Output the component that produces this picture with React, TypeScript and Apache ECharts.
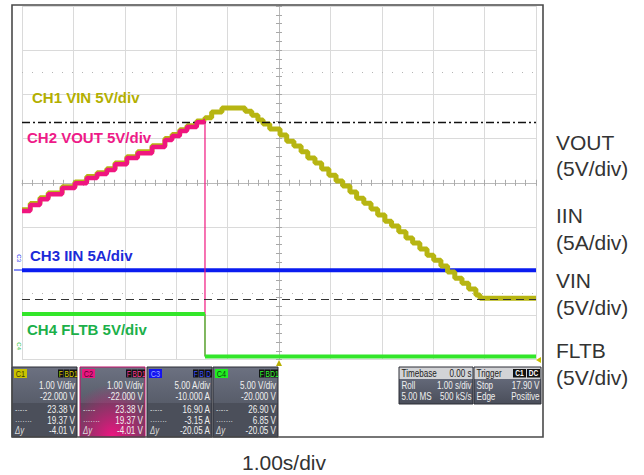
import React, { useEffect, useRef } from 'react';
import * as echarts from 'echarts';

const W = 644;
const H = 475;

// ---- channel scaling (from the scope's channel panels) ----
const C1_SCALE = 1; // V/div (VIN)
const C1_CENTER = 22; // V at screen centre (offset -22 V)
const C2_SCALE = 1; // V/div (VOUT)
const C2_CENTER = 22;
const C3_SCALE = 5; // A/div (IIN)
const C3_CENTER = 10;
const C4_SCALE = 5; // V/div (FLTB)
const C4_CENTER = 20;

// ---- time axis (s), 1.00 s/div, 10 div ----
const rampTime = [-5, -4.84, -4.65, -4.49, -4.22, -3.97, -3.74, -3.54, -3.35, -3.19, -2.96, -2.75, -2.47, -2.22, -2.08, -1.93, -1.79, -1.6, -1.46];
const voutRamp = [21.36, 21.5, 21.63, 21.74, 21.88, 21.99, 22.11, 22.2, 22.29, 22.42, 22.56, 22.67, 22.81, 22.97, 23.06, 23.17, 23.26, 23.37, 23.4];
const vinRamp = [21.39, 21.53, 21.66, 21.77, 21.91, 22.02, 22.14, 22.23, 22.32, 22.45, 22.59, 22.7, 22.84, 23.0, 23.09, 23.2, 23.29, 23.4, 23.43];

const vinTailTime = [-1.44, -1.31, -1.11, -0.76, -0.66, -0.53, -0.41, -0.31, -0.18, 0.02, 0.15, 0.29, 0.43, 0.56, 0.7, 0.83, 0.97, 1.11, 1.24, 1.38, 1.51, 1.65, 1.79, 1.92, 2.06, 2.19, 2.33, 2.47, 2.6, 2.74, 2.88, 3.01, 3.15, 3.28, 3.42, 3.56, 3.69, 3.83, 3.91, 5.0];
const vinTail = [23.47, 23.6, 23.69, 23.69, 23.62, 23.53, 23.42, 23.33, 23.22, 23.08, 22.94, 22.83, 22.7, 22.56, 22.45, 22.31, 22.17, 22.04, 21.93, 21.79, 21.65, 21.54, 21.41, 21.27, 21.13, 21.02, 20.89, 20.75, 20.64, 20.5, 20.36, 20.25, 20.12, 19.98, 19.84, 19.73, 19.6, 19.46, 19.39, 19.39];

const voutDropTime = [-1.44, -1.44, 5];
const voutDrop = [23.4, 18.08, 18.08];

const iinTime = [-5, 5];
const iin = [0.1, 0.1];

const fltbHighTime = [-5, -1.44];
const fltbHigh = [5.15, 5.15];
const fltbEdgeTime = [-1.44, -1.44];
const fltbEdge = [5.15, 0.35];
const fltbLowTime = [-1.44, 5];
const fltbLow = [0.35, 0.35];

const c1Cursors = [23.38, 19.37];

// ---- texts ----
const traceLabels = ['CH1 VIN 5V/div', 'CH2 VOUT 5V/div', 'CH3 IIN 5A/div', 'CH4 FLTB 5V/div'];
const sideLabels = ['VOUT', '(5V/div)', 'IIN', '(5A/div)', 'VIN', '(5V/div)', 'FLTB', '(5V/div)'];
const timeLabel = '1.00s/div';

const panelTags = ['C1', 'C2', 'C3', 'C4'];
const panelFlags = [['F', 'B', 'D1'], ['F', 'B', 'D1'], ['F', 'B', 'D'], ['F', 'B', 'D1']];
const panelRows = [
  ['1.00 V/div', '-22.000 V', '23.38 V', '19.37 V', '-4.01 V'],
  ['1.00 V/div', '-22.000 V', '23.38 V', '19.37 V', '-4.01 V'],
  ['5.00 A/div', '-10.000 A', '16.90 A', '-3.15 A', '-20.05 A'],
  ['5.00 V/div', '-20.000 V', '26.90 V', '6.85 V', '-20.05 V'],
];
const timebaseRows = [['Timebase', '0.00 s'], ['Roll', '1.00 s/div'], ['5.00 MS', '500 kS/s']];
const triggerRows = [['Trigger', ''], ['Stop', '17.90 V'], ['Edge', 'Positive']];
const triggerBadges = ['C1', 'DC'];

// ---- styling ----
const COL_VIN = '#b7b512';
const COL_VOUT = '#f0167f';
const COL_IIN = '#0a1cf0';
const COL_FLTB = '#33e62a';
const SANS = '"Liberation Sans", Arial, sans-serif';
const NX = 0.77; // horizontal compression for the scope's narrow panel font
const PFS = 10.5; // panel font size

const toDiv = (scale: number, center: number) => (v: number) => (v - center) / scale;
const pairs = (t: number[], v: number[], f: (x: number) => number) => t.map((x, i) => [x, f(v[i])]);

function tickAxis(dim: 'x' | 'y', inside: boolean) {
  const isX = dim === 'x';
  return {
    type: 'value',
    min: isX ? -5 : -4,
    max: isX ? 5 : 4,
    interval: 0.2,
    axisLabel: { show: false },
    splitLine: { show: false },
    axisLine: { show: true, onZero: true, lineStyle: { color: 'rgba(0,0,0,0)' } },
    axisTick: { show: true, inside, length: 3, lineStyle: { color: '#a8a8a8', width: 1 } },
  };
}

function ptext(x: number, y: number, text: string, fill: string, size: number, align: string, extra: any = {}) {
  return {
    type: 'text', z: 44, x, y, scaleX: NX,
    style: { text, fill, fontSize: size, fontFamily: SANS, align, verticalAlign: 'middle', ...extra },
  };
}

function buildGraphic() {
  const g: any[] = [];
  // outer frame
  g.push({ type: 'rect', z: 50, shape: { x: 12, y: 5, width: 531, height: 432 }, style: { fill: 'none', stroke: '#4a4a4a', lineWidth: 1.6 } });

  // trace labels inside the screen
  const traceLayout = [
    { x: 32, y: 97, c: '#b3af00' },
    { x: 27, y: 137, c: '#ee1a88' },
    { x: 30, y: 255, c: '#1c2ad8' },
    { x: 27, y: 329, c: '#1cb04a' },
  ];
  traceLabels.forEach((t, i) => {
    const L = traceLayout[i];
    g.push({ type: 'text', z: 60, x: L.x, y: L.y, style: { text: t, fill: L.c, fontSize: 15, fontWeight: 'bold', fontFamily: SANS, align: 'left', verticalAlign: 'middle' } });
  });

  // right side labels
  const sideY = [142, 168, 215, 242, 280, 307, 350, 377];
  sideLabels.forEach((t, i) => {
    g.push({ type: 'text', z: 60, x: 556, y: sideY[i], style: { text: t, fill: '#333333', fontSize: 21, fontFamily: SANS, align: 'left', verticalAlign: 'middle' } });
  });
  g.push({ type: 'text', z: 60, x: 284, y: 462, style: { text: timeLabel, fill: '#333333', fontSize: 21, fontFamily: SANS, align: 'center', verticalAlign: 'middle' } });

  // channel ground markers on left edge
  g.push({ type: 'text', z: 60, x: 19, y: 262, rotation: -Math.PI / 2, style: { text: 'C3', fill: COL_IIN, fontSize: 6, fontFamily: SANS, align: 'right', verticalAlign: 'middle' } });
  g.push({ type: 'line', z: 60, shape: { x1: 14, y1: 270, x2: 22, y2: 270 }, style: { stroke: COL_IIN, lineWidth: 1 } });
  g.push({ type: 'text', z: 60, x: 19, y: 350, rotation: -Math.PI / 2, style: { text: 'C4', fill: '#1cc43a', fontSize: 6, fontFamily: SANS, align: 'right', verticalAlign: 'middle' } });
  // trigger position marker
  g.push({ type: 'polygon', z: 60, shape: { points: [[276, 366], [282, 366], [279, 360]] }, style: { fill: '#b8b000' } });
  g.push({ type: 'polygon', z: 60, shape: { points: [[536, 360], [541, 357], [541, 363]] }, style: { fill: '#c8c000' } });

  // channel panels
  const px = [12, 80, 147, 213];
  const pw = 65;
  const py = 367;
  const ph = 70;
  const tagColors = ['#c9c300', '#e8177f', '#1414f0', '#22ee22'];
  const tagText = ['#403d00', '#5a0030', '#9aa8ff', '#0a4a0a'];
  const flagText = ['#d8d200', '#ff3a9a', '#3a50ff', '#33ff33'];
  const rowY = [385.7, 396.7, 409.3, 420.7, 430.7];
  panelTags.forEach((tag, i) => {
    const x0 = px[i];
    g.push({ type: 'rect', z: 40, shape: { x: x0, y: py, width: pw, height: 36 }, style: { fill: new echarts.graphic.LinearGradient(0, 0, 0, 1, [{ offset: 0, color: '#6c7181' }, { offset: 1, color: '#585d6a' }]) } });
    g.push({ type: 'rect', z: 40, shape: { x: x0, y: py + 36, width: pw, height: ph - 36 }, style: { fill: '#4b4f5a' } });
    if (i === 1) {
      g.push({ type: 'rect', z: 41, shape: { x: x0, y: py, width: pw, height: ph }, style: { fill: new echarts.graphic.RadialGradient(0.5, 1, 0.75, [{ offset: 0, color: 'rgba(240,20,130,1)' }, { offset: 0.6, color: 'rgba(220,20,120,0.45)' }, { offset: 1, color: 'rgba(220,20,120,0)' }]) } });
    }
    g.push({ type: 'rect', z: 42, shape: { x: x0, y: py, width: pw, height: ph }, style: { fill: 'none', stroke: i === 1 ? '#c01068' : '#2c2f36', lineWidth: 1 } });
    // tag badge
    g.push({ type: 'rect', z: 43, shape: { x: x0 + 2, y: py + 2, width: 13, height: 9 }, style: { fill: tagColors[i] } });
    g.push(ptext(x0 + 8.5, py + 6.8, tag, tagText[i], 9.5, 'center'));
    // flags
    const fx = [46, 52, 58];
    const fw = [5.6, 5.6, 7];
    panelFlags[i].forEach((f, k) => {
      g.push({ type: 'rect', z: 43, shape: { x: x0 + fx[k], y: py + 2.5, width: fw[k], height: 8 }, style: { fill: '#111111' } });
      g.push(ptext(x0 + fx[k] + fw[k] / 2, py + 6.8, f, flagText[i], 8.5, 'center'));
    });
    panelRows[i].forEach((r, k) => {
      g.push(ptext(x0 + pw - 2, rowY[k], r, '#f0f0f0', PFS, 'right'));
    });
    g.push(ptext(x0 + 3, rowY[2], '-·-·-', '#dddddd', 9.5, 'left'));
    g.push(ptext(x0 + 3, rowY[3], '·······', '#dddddd', 9.5, 'left'));
    g.push(ptext(x0 + 3, rowY[4], 'Δy', '#dddddd', 10, 'left', { fontStyle: 'italic' }));
  });

  // timebase & trigger panels
  const boxes = [
    { x: 399, w: 74, rows: timebaseRows },
    { x: 474, w: 67, rows: triggerRows },
  ];
  const bRowY = [373.5, 386, 396.5];
  boxes.forEach((b, bi) => {
    g.push({ type: 'rect', z: 40, shape: { x: b.x, y: 367, width: b.w, height: 12 }, style: { fill: '#d2d3d6' } });
    g.push({ type: 'rect', z: 40, shape: { x: b.x, y: 379, width: b.w, height: 25 }, style: { fill: new echarts.graphic.LinearGradient(0, 0, 0, 1, [{ offset: 0, color: '#636878' }, { offset: 1, color: '#4a4e5a' }]) } });
    g.push({ type: 'rect', z: 42, shape: { x: b.x, y: 367, width: b.w, height: 37 }, style: { fill: 'none', stroke: '#2c2f36', lineWidth: 1 } });
    b.rows.forEach((r, k) => {
      const col = k === 0 ? '#222222' : '#f0f0f0';
      g.push(ptext(b.x + 2.5, bRowY[k], r[0], col, PFS, 'left'));
      if (r[1]) g.push(ptext(b.x + b.w - 1.5, bRowY[k], r[1], col, PFS, 'right'));
    });
    if (bi === 1) {
      const bx = [513, 527];
      triggerBadges.forEach((t, k) => {
        g.push({ type: 'rect', z: 43, shape: { x: bx[k], y: 369, width: 13, height: 8.5 }, style: { fill: '#111111' } });
        g.push(ptext(bx[k] + 6.5, 373.4, t, '#ffffff', 8.5, 'center', { fontWeight: 'bold' }));
      });
    }
  });
  return g;
}

export default function App() {
  const ref = useRef<HTMLDivElement>(null);
  useEffect(() => {
    document.body.style.margin = '0';
    const chart = echarts.init(ref.current as HTMLDivElement, undefined, { renderer: 'svg', width: W, height: H });
    const c1 = toDiv(C1_SCALE, C1_CENTER);
    const c2 = toDiv(C2_SCALE, C2_CENTER);
    const c3 = toDiv(C3_SCALE, C3_CENTER);
    const c4 = toDiv(C4_SCALE, C4_CENTER);

    const vinData = pairs(rampTime.concat(vinTailTime), vinRamp.concat(vinTail), c1);
    const voutData = pairs(rampTime.concat([-1.44]), voutRamp.concat([23.4]), c2);

    const base = { type: 'line', symbol: 'none', silent: true, showSymbol: false, xAxisIndex: 0, yAxisIndex: 0 };

    const option: any = {
      animation: false,
      backgroundColor: '#ffffff',
      grid: { left: 22, top: 6, width: 514, height: 353.6, containLabel: false },
      xAxis: [
        {
          type: 'value', min: -5, max: 5, interval: 1,
          axisLabel: { show: false }, axisTick: { show: false },
          axisLine: { show: true, onZero: true, lineStyle: { color: '#b9b9b9', width: 1 } },
          splitLine: { show: true, lineStyle: { color: '#dadada', width: 1 } },
        },
        tickAxis('x', true),
        tickAxis('x', false),
      ],
      yAxis: [
        {
          type: 'value', min: -4, max: 4, interval: 1,
          axisLabel: { show: false }, axisTick: { show: false },
          axisLine: { show: true, onZero: true, lineStyle: { color: '#b9b9b9', width: 1 } },
          splitLine: { show: true, lineStyle: { color: '#dadada', width: 1 } },
        },
        tickAxis('y', true),
        tickAxis('y', false),
      ],
      series: [
        {
          ...base, name: 'IIN', z: 3, data: pairs(iinTime, iin, c3), lineStyle: { color: COL_IIN, width: 4 },
          markLine: {
            silent: true, symbol: ['none', 'none'], label: { show: false },
            data: [
              { yAxis: 2.5, lineStyle: { type: [1, 9], color: '#b5b5b5', width: 1 } },
              { yAxis: -2.5, lineStyle: { type: [1, 9], color: '#b5b5b5', width: 1 } },
            ],
          },
        },
        { ...base, name: 'VOUT drop', z: 3, data: pairs(voutDropTime, voutDrop, c2), lineStyle: { color: COL_VOUT, width: 1.2 } },
        { ...base, name: 'VIN', z: 4, step: 'end', data: vinData, lineStyle: { color: COL_VIN, width: 5 } },
        { ...base, name: 'VOUT', z: 5, step: 'end', data: voutData, lineStyle: { color: COL_VOUT, width: 4.5 } },
        { ...base, name: 'FLTB edge', z: 6, data: pairs(fltbEdgeTime, fltbEdge, c4), lineStyle: { color: COL_FLTB, width: 1.2 } },
        { ...base, name: 'FLTB high', z: 6, data: pairs(fltbHighTime, fltbHigh, c4), lineStyle: { color: COL_FLTB, width: 4 } },
        {
          ...base, name: 'FLTB low', z: 6, data: pairs(fltbLowTime, fltbLow, c4), lineStyle: { color: COL_FLTB, width: 4 },
          markLine: {
            silent: true, symbol: ['none', 'none'], label: { show: false },
            data: [
              { yAxis: c1(c1Cursors[0]), lineStyle: { type: [8, 3, 2, 3], color: '#111111', width: 1.4 } },
              { yAxis: c1(c1Cursors[1]), lineStyle: { type: [8, 5], color: '#333333', width: 1.1 } },
            ],
          },
        },
      ],
      graphic: { elements: buildGraphic() },
    };
    chart.setOption(option);
    return () => chart.dispose();
  }, []);
  return <div ref={ref} style={{ width: W, height: H }} />;
}
